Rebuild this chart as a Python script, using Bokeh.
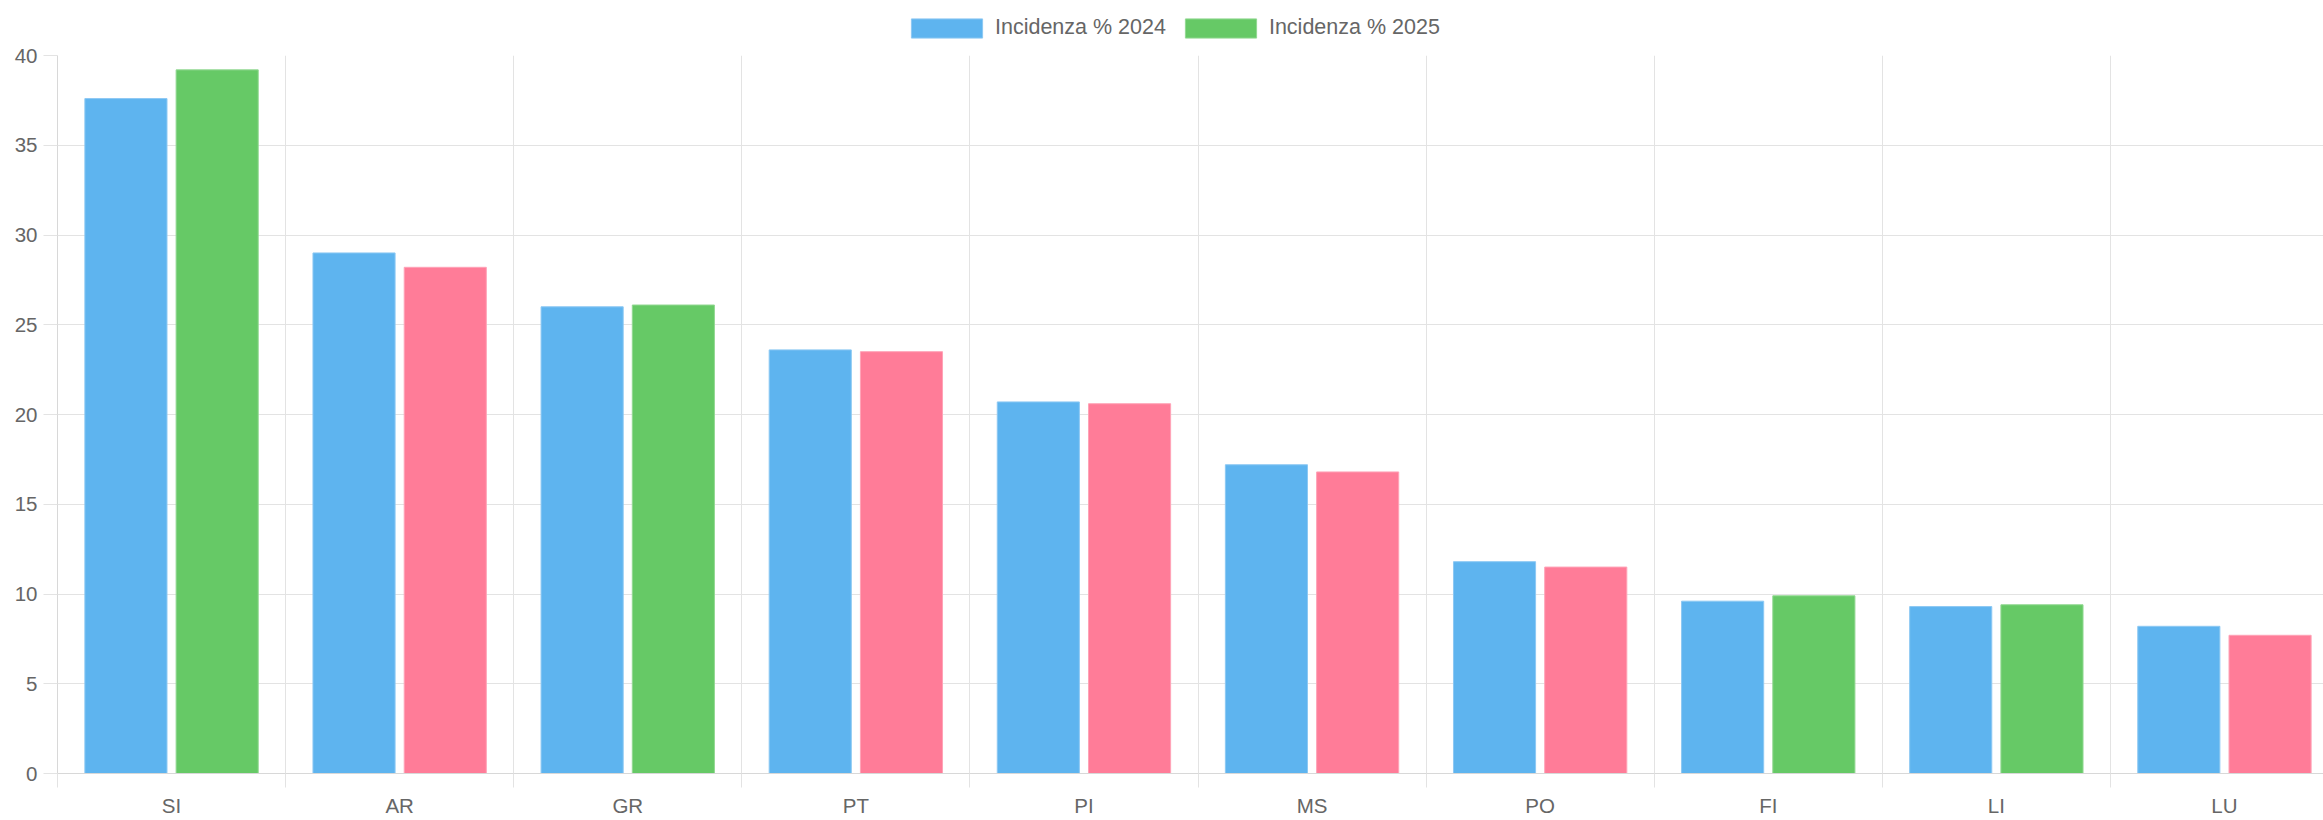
from bokeh.plotting import figure
from bokeh.layouts import column
from bokeh.models import (ColumnDataSource, FixedTicker, Range1d, Legend, LegendItem)
from bokeh.transform import dodge
from bokeh.embed import file_html
from bokeh.resources import INLINE

categories = ["SI", "AR", "GR", "PT", "PI", "MS", "PO", "FI", "LI", "LU"]
incidenza_2024 = [37.6, 29.0, 26.0, 23.6, 20.7, 17.2, 11.8, 9.6, 9.3, 8.2]
incidenza_2025 = [39.2, 28.2, 26.1, 23.5, 20.6, 16.8, 11.5, 9.9, 9.4, 7.7]
series_labels = ["Incidenza % 2024", "Incidenza % 2025"]
y_ticks = [0, 5, 10, 15, 20, 25, 30, 35, 40]

BLUE = "#5EB4EF"
BLUE_EDGE = "#8CC8F3"
GREEN = "#66C966"
GREEN_EDGE = "#92D892"
PINK = "#FF7C98"
PINK_EDGE = "#FFA3B7"
TEXT = "#666666"
GRID = "#E3E3E3"
AXIS = "#D8D8D8"
FONT = "Liberation Sans"
FSIZE = "20.5px"

idx = list(range(len(categories)))
up = [b >= a for a, b in zip(incidenza_2024, incidenza_2025)]
src = ColumnDataSource(dict(
    x=idx,
    cat=categories,
    v24=incidenza_2024,
    v25=incidenza_2025,
    fill25=[GREEN if u else PINK for u in up],
    line25=[GREEN_EDGE if u else PINK_EDGE for u in up],
))

n = len(categories)
frame_w = 2266
cat_px = 228.1
p = figure(width=2323, height=779, output_backend="svg", toolbar_location=None,
           x_range=Range1d(-0.5, -0.5 + frame_w / cat_px), y_range=Range1d(0, 40),
           min_border_left=57, min_border_right=0, min_border_top=15, min_border_bottom=46)
p.outline_line_color = None

r24 = p.vbar(x=dodge("x", -0.2, range=p.x_range), top="v24", width=0.36, source=src,
             fill_color=BLUE, line_color=BLUE_EDGE, line_width=1)
r25 = p.vbar(x=dodge("x", 0.2, range=p.x_range), top="v25", width=0.36, source=src,
             fill_color="fill25", line_color="line25", line_width=1)

# x axis: labels at category centres, small ticks at category boundaries
bounds = [i - 0.5 for i in range(n + 1)]
xa = p.xaxis[0]
xa.ticker = FixedTicker(ticks=idx, minor_ticks=bounds)
xa.major_label_overrides = {i: c for i, c in zip(idx, categories)}
xa.major_tick_line_color = None
xa.major_tick_out = 0
xa.major_tick_in = 0
xa.minor_tick_line_color = GRID
xa.minor_tick_out = 14
xa.minor_tick_in = 0
xa.axis_line_color = AXIS
xa.major_label_standoff = 6
xa.major_label_text_font = FONT
xa.major_label_text_font_size = FSIZE
xa.major_label_text_color = TEXT

ya = p.yaxis[0]
ya.ticker = FixedTicker(ticks=y_ticks)
ya.major_tick_line_color = GRID
ya.major_tick_out = 14
ya.major_tick_in = 0
ya.minor_tick_line_color = None
ya.axis_line_color = AXIS
ya.major_label_standoff = 6
ya.major_label_text_font = FONT
ya.major_label_text_font_size = FSIZE
ya.major_label_text_color = TEXT

p.xgrid.ticker = FixedTicker(ticks=bounds)
p.xgrid.grid_line_color = GRID
p.ygrid.ticker = FixedTicker(ticks=y_ticks)
p.ygrid.grid_line_color = GRID

# legend strip above the chart (legend glyphs reuse the bar styles)
lg = figure(width=2323, height=40, output_backend="svg", toolbar_location=None,
            x_range=p.x_range, y_range=p.y_range, x_axis_location=None, y_axis_location=None,
            min_border_left=0, min_border_right=0, min_border_top=0, min_border_bottom=0)
lg.outline_line_color = None
lg.xgrid.visible = False
lg.ygrid.visible = False
l24 = lg.vbar(x=dodge("x", -0.2, range=p.x_range), top="v24", width=0.36, source=src,
              fill_color=BLUE, line_color=BLUE_EDGE, line_width=1, visible=False)
l25 = lg.vbar(x=dodge("x", 0.2, range=p.x_range), top="v25", width=0.36, source=src,
              fill_color="fill25", line_color="line25", line_width=1, visible=False)
legend = Legend(items=[LegendItem(label=series_labels[0], renderers=[l24], index=0),
                       LegendItem(label=series_labels[1], renderers=[l25], index=0)],
                location=(845, 0), orientation="horizontal", click_policy="none",
                glyph_width=89, glyph_height=24, label_standoff=4, spacing=10,
                padding=0, margin=0, border_line_color=None, background_fill_alpha=0,
                label_text_font=FONT, label_text_font_size="21.5px", label_text_color=TEXT)
lg.add_layout(legend, "center")

layout = column(lg, p, spacing=0)
open("out.html", "w").write(file_html(layout, INLINE))
